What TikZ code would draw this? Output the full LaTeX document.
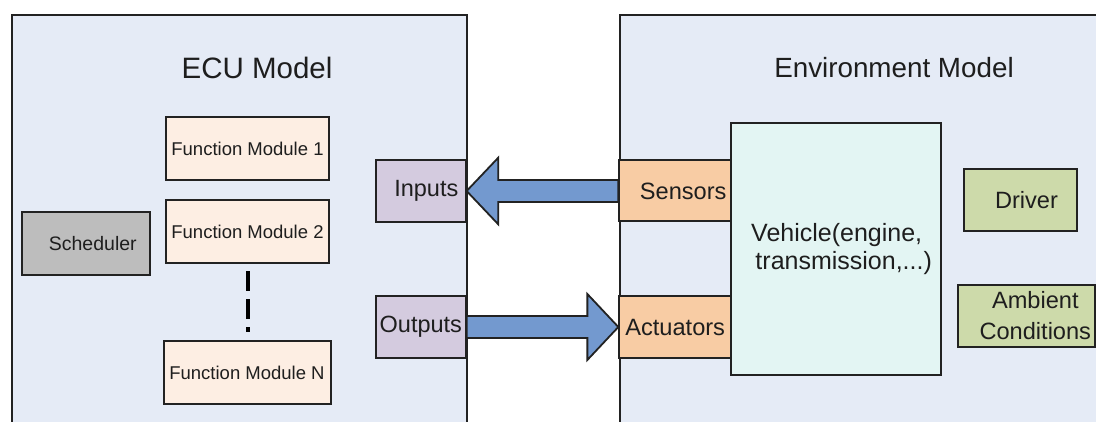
\documentclass[tikz,border=0pt]{standalone}
\usepackage{fontspec}
\setmainfont{Liberation Sans}
\usetikzlibrary{calc}

\definecolor{panelbg}{HTML}{E5EBF6}
\definecolor{modfill}{HTML}{FDEEE3}
\definecolor{schedfill}{HTML}{BDBDBD}
\definecolor{portfill}{HTML}{D4CBDF}
\definecolor{ioenvfill}{HTML}{F8CCA4}
\definecolor{vehfill}{HTML}{E3F5F3}
\definecolor{extfill}{HTML}{CDDAAA}
\definecolor{arrowblue}{HTML}{7399CF}
\definecolor{edge}{HTML}{222222}
\definecolor{ink}{HTML}{1E1E1E}

\begin{document}
\begin{tikzpicture}[x=1pt,y=-1pt,
  panel/.style={draw=edge, fill=panelbg, line width=2pt, inner sep=0pt, anchor=north west},
  title/.style={text=ink, inner sep=0pt},
  blk/.style={draw=edge, line width=2pt, inner sep=0pt, text=ink, align=center},
  modbox/.style={blk, fill=modfill, minimum width=163.6pt, minimum height=63pt, font=\fontsize{18.5}{22}\selectfont},
  portbox/.style={blk, fill=portfill, minimum width=89.7pt, minimum height=62pt, font=\fontsize{23.5}{28}\selectfont},
  envport/.style={blk, fill=ioenvfill, minimum width=111.7pt, minimum height=61pt, font=\fontsize{23.6}{28}\selectfont},
  extbox/.style={blk, fill=extfill, minimum height=61.7pt, font=\fontsize{23.6}{31}\selectfont},
  fatarrow/.style={draw=edge, fill=arrowblue, line width=1.8pt, line join=miter},
  moduledots/.style={draw=black, line width=4pt, dash pattern=on 20pt off 8pt, shorten <=7pt, shorten >=8pt}
]
\useasboundingbox (0,0) rectangle (1096,422);
\clip (0,0) rectangle (1096,422);

% the two model panels
\node[panel, minimum width=455pt, minimum height=430pt] (ecu) at (11,14) {};
\node[panel, minimum width=500pt, minimum height=430pt] (env) at (619,14) {};
\node[title, font=\fontsize{29.5}{34}\selectfont] (ecutitle) at (257,68) {ECU Model};
\node[title, font=\fontsize{27.8}{32}\selectfont] (envtitle) at (894,68) {Environment Model};

% ECU contents
\node[modbox] (fm1) at (247.5,148.5) {Function Module 1};
\node[modbox] (fm2) at (247.5,232) {Function Module 2};
\node[modbox, minimum width=167pt] (fmN) at (247,372.8) {Function Module N};
\node[blk, fill=schedfill, minimum width=127.7pt, minimum height=62.7pt,
      font=\fontsize{19.5}{23}\selectfont] (sched) at (85.8,243.6) {\hspace*{14pt}Scheduler};
\draw[moduledots] (fm2.south) -- (fm2.south |- fmN.north);

% Environment contents
\node[blk, fill=vehfill, minimum width=210pt, minimum height=251.7pt,
      font=\fontsize{25}{28.5}\selectfont] (veh) at (835.7,249.2)
      {\hspace*{2pt}Vehicle(engine,\\ \hspace*{16pt}transmission,...)};
\node[extbox, minimum width=113pt] (drv) at (1020.5,199.8) {\hspace*{12pt}Driver};
\node[extbox, minimum width=137.3pt] (amb) at (1026.3,315.8) {\hspace*{18pt}Ambient\\\hspace*{18pt}Conditions};

% invisible port frames, used to anchor the arrows before the boxes are drawn
\node[portbox, draw=none, fill=none] (inp) at (420.8,191) {};
\node[portbox, draw=none, fill=none] (outp) at (420.8,327) {};
\node[envport, draw=none, fill=none] (sens) at (675.2,191) {};
\node[envport, draw=none, fill=none] (act) at (675.2,327) {};

% signal flow arrows
\draw[fatarrow] ($(sens.west)+(0,-11)$) -- ($(inp.east)+(31.6,-11)$)
  -- ($(inp.east)+(31.6,-33.3)$) -- (inp.east) -- ($(inp.east)+(31.6,33.3)$)
  -- ($(inp.east)+(31.6,11)$) -- ($(sens.west)+(0,11)$) -- cycle;
\draw[fatarrow] ($(outp.east)+(0,-11)$) -- ($(act.west)+(-31,-11)$)
  -- ($(act.west)+(-31,-33)$) -- (act.west) -- ($(act.west)+(-31,33)$)
  -- ($(act.west)+(-31,11)$) -- ($(outp.east)+(0,11)$) -- cycle;

% port boxes
\node[portbox] (inputs) at (inp) {\hspace*{11pt}Inputs};
\node[portbox] (outputs) at (outp) {Outputs};
\node[envport] (sensors) at (sens) {\hspace*{16pt}Sensors};
\node[envport] (actuators) at (act) {Actuators};
\end{tikzpicture}
\end{document}
